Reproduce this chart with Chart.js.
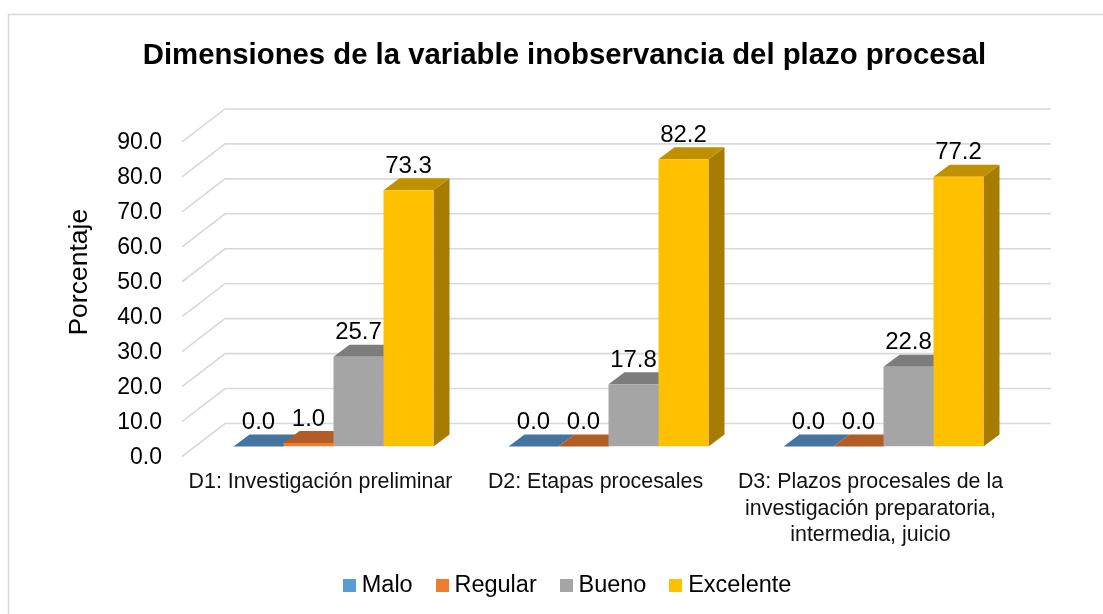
<!DOCTYPE html>
<html><head><meta charset="utf-8">
<style>html,body{margin:0;padding:0;background:#fff}canvas{display:block}</style>
<script src="https://cdn.jsdelivr.net/npm/chart.js@4/dist/chart.umd.js"></script>
</head><body><canvas id="c" width="1103" height="614"></canvas>
<script>
const categories = [["D1: Investigación preliminar"],["D2: Etapas procesales"],["D3: Plazos procesales de la","investigación preparatoria,","intermedia, juicio"]];
const seriesNames = ["Malo","Regular","Bueno","Excelente"];
const malo = [0.0,0.0,0.0];
const regular = [1.0,0.0,0.0];
const bueno = [25.7,17.8,22.8];
const excelente = [73.3,82.2,77.2];
const frontColors = ["#5B9BD5","#ED7D31","#A5A5A5","#FFC000"];
const topColors = ["#44749F","#B25D25","#7C7C7C","#BF9000"];
const sideColors = ["#3A6385","#9A5020","#6A6A6A","#A67C00"];
const legendColors = ["#5B9BD5","#ED7D31","#A5A5A5","#FFC000"];
const FONT = '"Liberation Sans", Arial, sans-serif';
const DX = 16, DY = 12;

function swatch(col){const c=document.createElement('canvas');c.width=13;c.height=13;const x=c.getContext('2d');x.fillStyle=col;x.fillRect(0,0,13,13);return c;}

const scene = {
  id:'scene',
  afterLayout(chart){
    const t=chart.titleBlock; t.left=0; t.right=1129;
    const l=chart.legend; l.left=320; l.top-=7; l.bottom-=7;
    const y=chart.scales.y;
    if(!y._wrapped){const o=y.drawTitle;y.drawTitle=function(){const c=this.ctx;c.save();c.translate(0,-17);o.call(this);c.restore();};y._wrapped=true;}
  },
  beforeDraw(chart){
    const c=chart.ctx;c.save();c.fillStyle='#fff';c.fillRect(0,0,1103,614);
    c.strokeStyle='#D9D9D9';c.lineWidth=1.5;c.strokeRect(8.5,14.5,1200,640);c.restore();
  },
  beforeDatasetsDraw(chart){
    const c=chart.ctx,a=chart.chartArea,ys=chart.scales.y;
    c.save();c.strokeStyle='#D9D9D9';c.lineWidth=1.6;
    ys.ticks.forEach(t=>{
      const p=ys.getPixelForValue(t.value);
      c.beginPath();c.moveTo(a.left-14,p+10);c.lineTo(a.left+29,p-23);c.lineTo(a.right+30,p-23);c.stroke();
    });
    const n=chart.data.labels.length;
    for(let i=0;i<n;i++){
      chart.data.datasets.forEach((d,di)=>{
        const e=chart.getDatasetMeta(di).data[i];
        const l=e.x-e.width/2,r=e.x+e.width/2,y=e.y,b=e.base;
        c.fillStyle=sideColors[di];
        c.beginPath();c.moveTo(r,y);c.lineTo(r+DX,y-DY);c.lineTo(r+DX,b-DY);c.lineTo(r,b);c.closePath();c.fill();
        c.fillStyle=topColors[di];
        c.beginPath();c.moveTo(l,y);c.lineTo(r,y);c.lineTo(r+DX,y-DY);c.lineTo(l+DX,y-DY);c.closePath();c.fill();
      });
    }
    c.restore();
  },
  afterDatasetsDraw(chart){
    const c=chart.ctx;c.save();c.font='24px '+FONT;c.fillStyle='#000';c.textAlign='center';c.textBaseline='middle';
    chart.data.datasets.forEach((d,di)=>{
      chart.getDatasetMeta(di).data.forEach((e,i)=>{c.fillText(d.data[i].toFixed(1),e.x,e.y-24);});
    });
    c.restore();
  }
};

new Chart(document.getElementById('c'),{
  type:'bar',
  data:{labels:categories,datasets:[malo,regular,bueno,excelente].map((v,i)=>({label:seriesNames[i],data:v,backgroundColor:frontColors[i],borderWidth:0,barPercentage:1,categoryPercentage:200/275}))},
  options:{
    responsive:false,animation:false,
    layout:{padding:{left:0,right:82,top:0,bottom:0}},
    plugins:{
      tooltip:{enabled:false},
      title:{display:true,text:"Dimensiones de la variable inobservancia del plazo procesal",color:'#000',font:{family:FONT,size:29.3,weight:'bold'},padding:{top:38.4,bottom:58.4}},
      legend:{position:'bottom',align:'start',labels:{
        color:'#000',font:{family:FONT,size:23.5},usePointStyle:true,pointStyleWidth:1,padding:29,
        generateLabels(chart){return chart.data.datasets.map((d,i)=>({text:d.label,fillStyle:legendColors[i],strokeStyle:legendColors[i],lineWidth:0,pointStyle:swatch(legendColors[i]),datasetIndex:i,fontColor:'#000',hidden:false}));}
      }}
    },
    scales:{
      x:{grid:{display:false,drawTicks:false},border:{display:false},
        afterFit(s){s.height=105;},
        ticks:{color:'#111',font:{family:FONT,size:21.4,lineHeight:1.22},padding:23,maxRotation:0,minRotation:0,autoSkip:false,labelOffset:-13}},
      y:{min:0,max:90,grid:{display:false,drawTicks:false},border:{display:false},
        afterFit(s){s.width=196;},
        title:{display:true,text:"Porcentaje",color:'#000',font:{family:FONT,size:26.5},padding:{top:64,bottom:0}},
        ticks:{color:'#000',stepSize:10,font:{family:FONT,size:23},padding:34,labelOffset:11,callback:v=>Number(v).toFixed(1)}}
    }
  },
  plugins:[scene]
});
</script></body></html>
